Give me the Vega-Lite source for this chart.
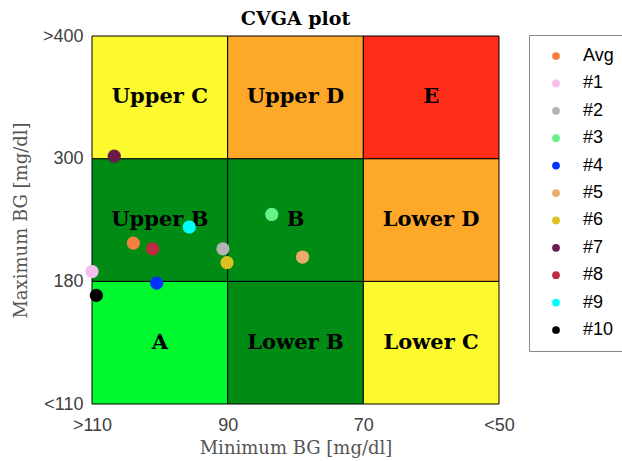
{
  "$schema": "https://vega.github.io/schema/vega-lite/v6.json",
  "width": 407,
  "height": 368,
  "autosize": {"type": "none"},
  "padding": {"left": 92, "top": 36, "right": 123, "bottom": 57},
  "background": "white",
  "title": {"text": "CVGA plot", "anchor": "middle", "offset": -2, "font": "DejaVu Serif", "fontWeight": "bold", "fontSize": 19, "color": "black"},
  "config": {"view": {"stroke": null}},
  "datasets": {
    "cells": [
      {"x": 0, "x2": 1, "y": 0, "y2": 1, "zone": "A"},
      {"x": 1, "x2": 2, "y": 0, "y2": 1, "zone": "Lower B"},
      {"x": 2, "x2": 3, "y": 0, "y2": 1, "zone": "Lower C"},
      {"x": 0, "x2": 1, "y": 1, "y2": 2, "zone": "Upper B"},
      {"x": 1, "x2": 2, "y": 1, "y2": 2, "zone": "B"},
      {"x": 2, "x2": 3, "y": 1, "y2": 2, "zone": "Lower D"},
      {"x": 0, "x2": 1, "y": 2, "y2": 3, "zone": "Upper C"},
      {"x": 1, "x2": 2, "y": 2, "y2": 3, "zone": "Upper D"},
      {"x": 2, "x2": 3, "y": 2, "y2": 3, "zone": "E"}
    ],
    "points": [
      {"name": "#1", "minbg": 0.0, "maxbg": 1.08},
      {"name": "#2", "minbg": 0.965, "maxbg": 1.265},
      {"name": "#3", "minbg": 1.325, "maxbg": 1.545},
      {"name": "#4", "minbg": 0.477, "maxbg": 0.985},
      {"name": "#5", "minbg": 1.552, "maxbg": 1.198},
      {"name": "#6", "minbg": 0.995, "maxbg": 1.152},
      {"name": "#7", "minbg": 0.164, "maxbg": 2.02},
      {"name": "#8", "minbg": 0.447, "maxbg": 1.265},
      {"name": "#9", "minbg": 0.717, "maxbg": 1.443},
      {"name": "#10", "minbg": 0.032, "maxbg": 0.885},
      {"name": "Avg", "minbg": 0.305, "maxbg": 1.312}
    ]
  },
  "layer": [
    {
      "data": {"name": "cells"},
      "mark": {"type": "rect", "stroke": "black", "strokeWidth": 1},
      "encoding": {
        "x": {"field": "x", "type": "quantitative",
          "scale": {"domain": [0, 3], "nice": false, "zero": false},
          "axis": {"values": [0, 1, 2, 3], "labelExpr": "datum.value == 0 ? '>110' : datum.value == 1 ? '90' : datum.value == 2 ? '70' : '<50'",
            "title": "Minimum BG [mg/dl]", "ticks": false, "domain": false, "grid": false, "labelFlush": false, "labelOverlap": false,
            "labelPadding": 12, "labelFont": "Liberation Sans", "labelFontSize": 18, "labelColor": "#404040",
            "titleFont": "DejaVu Serif", "titleFontWeight": "normal", "titleFontSize": 18, "titleColor": "#555555", "titlePadding": 5}},
        "x2": {"field": "x2"},
        "y": {"field": "y", "type": "quantitative",
          "scale": {"domain": [0, 3], "nice": false, "zero": false},
          "axis": {"values": [0, 1, 2, 3], "labelExpr": "datum.value == 0 ? '<110' : datum.value == 1 ? '180' : datum.value == 2 ? '300' : '>400'",
            "title": "Maximum BG [mg/dl]", "ticks": false, "domain": false, "grid": false, "labelFlush": false, "labelOverlap": false,
            "labelPadding": 9, "labelFont": "Liberation Sans", "labelFontSize": 18, "labelColor": "#404040",
            "titleFont": "DejaVu Serif", "titleFontWeight": "normal", "titleFontSize": 18, "titleColor": "#555555", "titlePadding": 12}},
        "y2": {"field": "y2"},
        "fill": {"field": "zone", "type": "nominal", "legend": null,
          "scale": {"domain": ["A", "Lower B", "Lower C", "Upper B", "B", "Lower D", "Upper C", "Upper D", "E"],
            "range": ["#00F82E", "#008C14", "#FCF92C", "#008C14", "#008C14", "#FDA828", "#FCF92C", "#FDA828", "#FF2D17"]}}
      }
    },
    {
      "data": {"name": "cells"},
      "transform": [
        {"calculate": "(datum.x + datum.x2) / 2", "as": "cx"},
        {"calculate": "(datum.y + datum.y2) / 2", "as": "cy"}
      ],
      "mark": {"type": "text", "font": "DejaVu Serif", "fontWeight": "bold", "fontSize": 21, "color": "black", "align": "center", "baseline": "middle"},
      "encoding": {
        "x": {"field": "cx", "type": "quantitative"},
        "y": {"field": "cy", "type": "quantitative"},
        "text": {"field": "zone"}
      }
    },
    {
      "data": {"name": "points"},
      "mark": {"type": "point", "filled": true, "size": 175, "opacity": 1},
      "encoding": {
        "x": {"field": "minbg", "type": "quantitative"},
        "y": {"field": "maxbg", "type": "quantitative"},
        "color": {"field": "name", "type": "nominal",
          "scale": {"domain": ["Avg", "#1", "#2", "#3", "#4", "#5", "#6", "#7", "#8", "#9", "#10"],
            "range": ["#F7803E", "#F5C0F0", "#B4B4B4", "#66F28A", "#0033FF", "#EBAB6B", "#DBC020", "#6B1A4A", "#BE2A3F", "#00FFFF", "#000000"]},
          "legend": {"title": null, "orient": "none", "legendX": 437, "legendY": -1,
            "symbolType": "circle", "symbolSize": 60, "symbolStrokeWidth": 0, "symbolOffset": 6,
            "labelFont": "Liberation Sans", "labelFontSize": 18, "labelColor": "black", "labelOffset": 18,
            "rowPadding": 9.4, "padding": 12, "strokeColor": "#888888", "fillColor": "white", "offset": 0}}
      }
    }
  ]
}
